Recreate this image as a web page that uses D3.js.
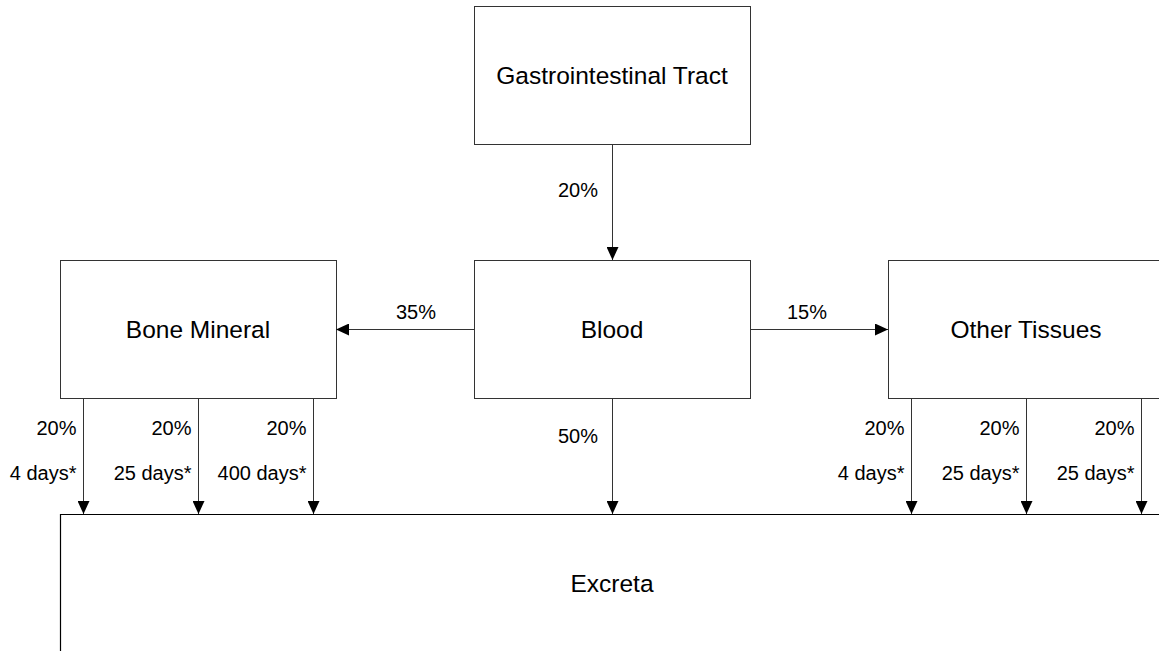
<!DOCTYPE html>
<html>
<head>
<meta charset="utf-8">
<script src="https://cdn.jsdelivr.net/npm/d3@7"></script>
<style>
  body { margin: 0; background: #fff; }
  text { font-family: "Liberation Sans", Arial, sans-serif; fill: #000; }
</style>
</head>
<body>
<div class="canvas"></div>
<script>
// diagram data
const columns = ['Bone Mineral', 'Blood', 'Other Tissues'];
const rows = ['intake', 'body', 'output'];
const intakeNode = 'Gastrointestinal Tract';
const outputNode = 'Excreta';
const intakeFlow = '20%';
const bloodFlows = ['35%', '50%', '15%'];        // to bone, excreta, other tissues
const boneFractions = ['20%', '20%', '20%'];
const boneHalfLives = ['4 days*', '25 days*', '400 days*'];
const tissueFractions = ['20%', '20%', '20%'];
const tissueHalfLives = ['4 days*', '25 days*', '25 days*'];

const width = 1159;
const height = 651;
const boxW = 276;
const boxH = 138;

const svg = d3.select('.canvas')
  .append('svg')
  .attr('width', width)
  .attr('height', height);

// arrow marker
svg.append('defs').append('marker')
  .attr('id', 'head')
  .attr('viewBox', '0 0 13 12')
  .attr('refX', 13)
  .attr('refY', 6)
  .attr('markerWidth', 13)
  .attr('markerHeight', 12)
  .attr('markerUnits', 'userSpaceOnUse')
  .attr('orient', 'auto')
  .append('path')
  .attr('d', 'M0,0 L13,6 L0,12 Z')
  .attr('fill', '#000');

// scales for layout
const x = d3.scalePoint().domain(columns).range([198, 1026]);
const y = d3.scalePoint().domain(rows).range([6, 514]);
const sub = d3.scalePoint().domain([0, 1, 2]).range([23, 253]);

const left = c => x(c) - boxW / 2;

const boxes = [
  { name: intakeNode, cx: x('Blood'), top: y('intake') },
  ...columns.map(c => ({ name: c, cx: x(c), top: y('body') }))
];

const g = svg.append('g');

g.selectAll('rect.box')
  .data(boxes)
  .enter()
  .append('rect')
  .attr('class', 'box')
  .attr('x', d => d.cx - boxW / 2 + 0.5)
  .attr('y', d => d.top + 0.5)
  .attr('width', boxW)
  .attr('height', boxH)
  .attr('fill', '#fff')
  .attr('stroke', '#333')
  .attr('stroke-width', 1);

// excreta box (runs off the page)
g.append('path')
  .attr('d', `M${left('Bone Mineral') + 0.5},${y('output') + boxH + 20} V${y('output') + 0.5} H${width + 10}`)
  .attr('fill', 'none')
  .attr('stroke', '#000')
  .attr('stroke-width', 1.2);

const labels = boxes.concat([{ name: outputNode, cx: x('Blood'), top: y('output') }]);
g.selectAll('text.box')
  .data(labels)
  .enter()
  .append('text')
  .attr('class', 'box')
  .attr('x', d => d.cx)
  .attr('y', d => d.top + boxH / 2 + 9)
  .attr('text-anchor', 'middle')
  .attr('font-size', '24.5px')
  .text(d => d.name);

// arrows
const arrow = (x1, y1, x2, y2) => g.append('line')
  .attr('x1', x1).attr('y1', y1).attr('x2', x2).attr('y2', y2)
  .attr('stroke', '#333')
  .attr('stroke-width', 1)
  .attr('marker-end', 'url(#head)');

const small = (tx, ty, anchor, s) => g.append('text')
  .attr('x', tx).attr('y', ty)
  .attr('text-anchor', anchor)
  .attr('font-size', '20px')
  .text(s);

const bx = x('Blood') + 0.5;
const midY = y('body') + boxH / 2 + 0.5;

// gi -> blood
arrow(bx, y('intake') + boxH, bx, y('body'));
small(x('Blood') - 14, 197, 'end', intakeFlow);

// blood -> bone / other
arrow(left('Blood'), midY, left('Blood') - (left('Blood') - left('Bone Mineral') - boxW), midY);
small(left('Blood') - 58, 319, 'middle', bloodFlows[0]);
arrow(left('Blood') + boxW, midY, left('Other Tissues'), midY);
small(left('Blood') + boxW + 57, 319, 'middle', bloodFlows[2]);

// blood -> excreta
arrow(bx, y('body') + boxH, bx, y('output'));
small(x('Blood') - 14, 443, 'end', bloodFlows[1]);

// compartments to excreta
const drains = (col, fractions, halfLives) => {
  fractions.forEach((f, i) => {
    const ax = left(col) + sub(i) + 0.5;
    arrow(ax, y('body') + boxH, ax, y('output'));
    small(ax - 7, 435, 'end', f);
    small(ax - 7, 480, 'end', halfLives[i]);
  });
};
drains('Bone Mineral', boneFractions, boneHalfLives);
drains('Other Tissues', tissueFractions, tissueHalfLives);
</script>
</body>
</html>
